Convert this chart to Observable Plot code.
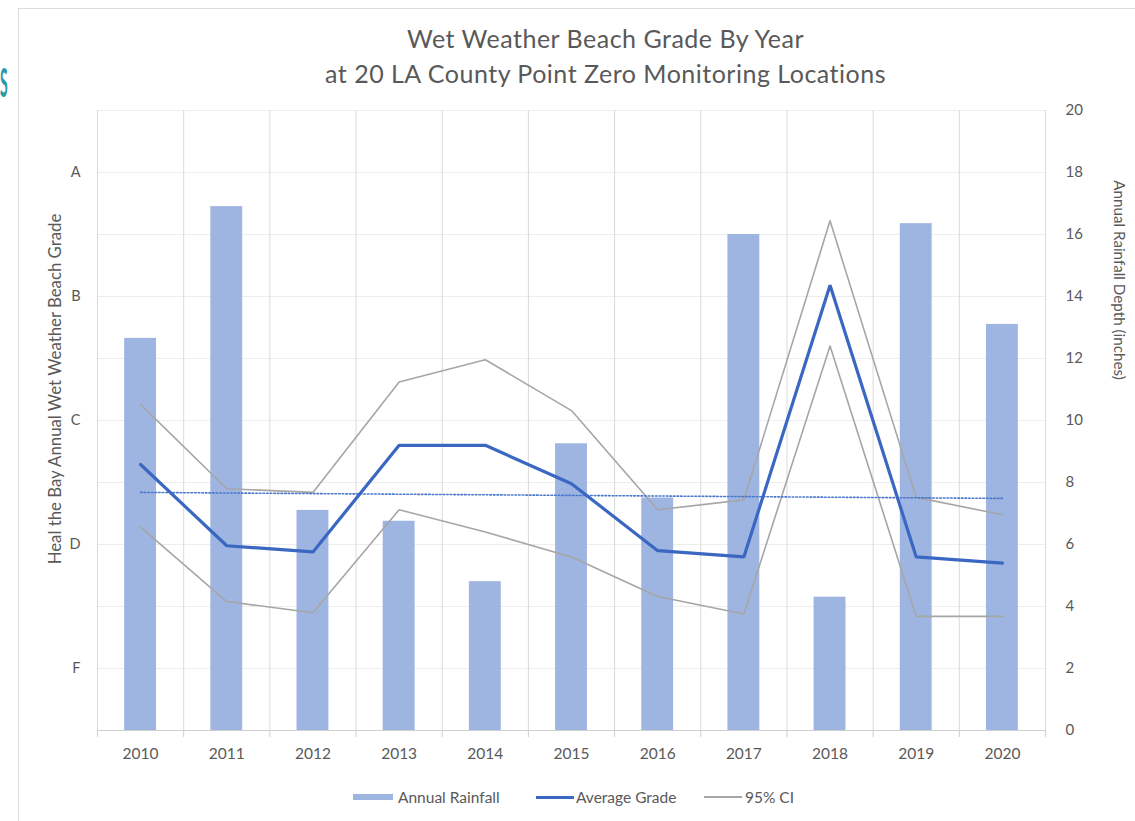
<!DOCTYPE html>
<html><head><meta charset="utf-8">
<script src="https://cdn.jsdelivr.net/npm/d3@7"></script>
<script src="https://cdn.jsdelivr.net/npm/@observablehq/plot@0.6"></script>
<style>
body{margin:0;background:#fff;font-family:Lato,"Open Sans",sans-serif;}
#wrap{position:relative;width:1135px;height:821px;overflow:hidden;background:#fff;}
#frame{position:absolute;left:18px;top:8px;width:1200px;height:900px;border:1.5px solid #dcdcdc;box-sizing:border-box;}
#teal{position:absolute;left:0px;top:60px;font-size:40px;line-height:44px;font-weight:700;color:#2b98a6;transform:scaleX(0.35);transform-origin:left top;}
#title{position:absolute;left:38px;width:1135px;top:21px;text-align:center;color:#595959;font-size:25px;letter-spacing:0.5px;line-height:35px;}
#chart{position:absolute;left:0;top:0;}
.ylab{position:absolute;color:#595959;white-space:nowrap;}
#legend{position:absolute;top:787px;left:0;width:1135px;height:20px;color:#595959;font-size:15.5px;}
.li{position:absolute;top:0;display:flex;align-items:center;height:20px;}
.sw{display:inline-block;margin-right:5px;}
</style>
</head><body>
<div id="wrap">
  <div id="frame"></div>
  <div id="teal">S</div>
  <div id="chart"></div>
  <div id="title">Wet Weather Beach Grade By Year<br>at 20 LA County Point Zero Monitoring Locations</div>
  <div class="ylab" id="ltitle" style="left:54px;top:389px;font-size:16.8px;transform:translate(-50%,-50%) rotate(-90deg);">Heal the Bay Annual Wet Weather Beach Grade</div>
  <div class="ylab" id="rtitle" style="left:1120px;top:280px;font-size:15.2px;transform:translate(-50%,-50%) rotate(90deg);">Annual Rainfall Depth (inches)</div>
  <div id="legend">
    <div class="li" style="left:353px;"><span class="sw" style="width:40px;height:6px;background:#9fb5e1;"></span>Annual Rainfall</div>
    <div class="li" style="left:536px;"><span class="sw" style="width:38px;height:3px;background:#3a67c2;margin-right:2px;"></span>Average Grade</div>
    <div class="li" style="left:704px;"><span class="sw" style="width:38px;height:1.5px;background:#a6a6a6;margin-right:3px;"></span>95% CI</div>
  </div>
</div>
<script>
// ---- data ----
const years = [2010, 2011, 2012, 2013, 2014, 2015, 2016, 2017, 2018, 2019, 2020];
const rainfall = [12.65, 16.9, 7.1, 6.75, 4.8, 9.25, 7.5, 16.0, 4.3, 16.35, 13.1]; // inches
// grades on a numeric scale: F=0, D=1, C=2, B=3, A=4
const avgGrade = [1.645, 0.99, 0.94, 1.80, 1.80, 1.49, 0.95, 0.90, 3.09, 0.90, 0.85];
const ciUpper  = [2.13, 1.45, 1.42, 2.31, 2.49, 2.08, 1.28, 1.36, 3.61, 1.38, 1.24];
const ciLower  = [1.14, 0.54, 0.45, 1.28, 1.10, 0.90, 0.58, 0.44, 2.60, 0.42, 0.42];
const gradeLabels = ["F", "D", "C", "B", "A"];
const rainTicks = [0, 2, 4, 6, 8, 10, 12, 14, 16, 18, 20];

// left (grade) axis shares the plot with the rainfall axis: F..A sit at 2..18 inches
const gradeToAxis = g => 2 + 4 * g;
const gradeTicks = gradeLabels.map((_, i) => gradeToAxis(i));

const data = years.map((year, i) => ({
  year, rain: rainfall[i], avg: avgGrade[i], hi: ciUpper[i], lo: ciLower[i]
}));
const bounds = years.map(y => y - 0.5).concat([years[years.length - 1] + 0.5]);
const halfBar = 0.185;

const plot = Plot.plot({
  width: 1135, height: 821,
  marginLeft: 97, marginRight: 90, marginTop: 110, marginBottom: 91,
  style: {fontFamily: "Lato, 'Open Sans', sans-serif", color: "#595959", background: "transparent"},
  x: {type: "linear", domain: [bounds[0], bounds[bounds.length - 1]]},
  y: {domain: [0, 20]},
  marks: [
    Plot.ruleY(rainTicks.slice(1), {stroke: "#ededed", strokeWidth: 1}),
    Plot.ruleX(bounds, {y1: 0, y2: 20, stroke: "#dadada", strokeWidth: 1}),
    Plot.axisX({ticks: bounds, tickSize: 7, tickFormat: () => "", stroke: "#d0d0d0", label: null}),
    Plot.axisX({ticks: years, tickSize: 0, tickPadding: 17, tickFormat: d => String(d), fontSize: 15.5, label: null}),
    Plot.ruleY([0], {stroke: "#d0d0d0", strokeWidth: 1}),
    Plot.rectY(data, {x1: d => d.year - halfBar, x2: d => d.year + halfBar, y: "rain", fill: "#9fb5e1"}),
    Plot.lineY(data, {x: "year", y: d => gradeToAxis(d.hi), stroke: "#a6a6a6", strokeWidth: 1.6}),
    Plot.lineY(data, {x: "year", y: d => gradeToAxis(d.lo), stroke: "#a6a6a6", strokeWidth: 1.6}),
    Plot.linearRegressionY(data, {x: "year", y: d => gradeToAxis(d.avg), stroke: "#4a78cc", strokeWidth: 1.6, strokeDasharray: "1.6,2", ci: 0}),
    Plot.lineY(data, {x: "year", y: d => gradeToAxis(d.avg), stroke: "#3a67c2", strokeWidth: 3.2, strokeLinejoin: "miter"}),
    Plot.axisY({anchor: "right", ticks: rainTicks, tickSize: 0, tickPadding: 20, fontSize: 15, label: null, textAnchor: "start"}),
    Plot.axisY({anchor: "left", ticks: gradeTicks, tickSize: 0, tickPadding: 17, fontSize: 14.5, label: null,
      tickFormat: v => gradeLabels[Math.round((v - 2) / 4)]})
  ]
});
document.getElementById("chart").appendChild(plot);
</script>
</body></html>
